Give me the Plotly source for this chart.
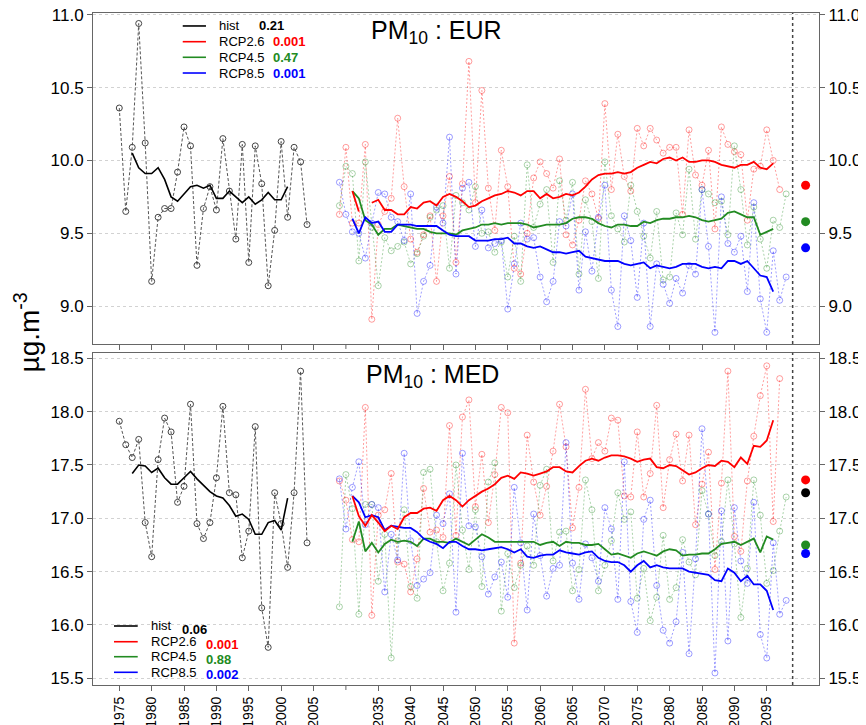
import plotly.graph_objects as go

# ---------------- data ----------------
hist_years = list(range(1975, 2005))
hist_rm_years = list(range(1977, 2002))
fut_years = list(range(2029, 2099))
fut_rm_years = list(range(2031, 2097))
end_marker_year = 2101
separator_year = 2099
axis_gap_years = 20  # years left out of the axis between the two periods

hist_tick_years = [1975, 1980, 1985, 1990, 1995, 2000, 2005]
blank_tick_years = [2030]
fut_tick_years = [2035, 2040, 2045, 2050, 2055, 2060, 2065, 2070, 2075, 2080, 2085, 2090, 2095]

# ---- PM10 : EUR ----
eur_hist = [10.36, 9.65, 10.09, 10.94, 10.12, 9.17, 9.61, 9.67, 9.67, 9.92,
            10.23, 10.10, 9.28, 9.67, 9.82, 9.66, 10.15, 9.79, 9.46, 10.11,
            9.30, 10.10, 9.84, 9.14, 9.52, 10.13, 9.61, 10.09, 9.99, 9.56]
eur_hist_rm = [10.05, 9.95, 9.91, 9.91, 9.95, 9.87, 9.75, 9.72, 9.77, 9.82,
               9.83, 9.81, 9.83, 9.74, 9.74, 9.79, 9.75, 9.71, 9.75, 9.70,
               9.73, 9.78, 9.73, 9.73, 9.82]
eur_r26 = [9.63, 10.09, 9.57, 9.57, 10.11, 8.91, 9.56, 9.65, 9.74, 10.29,
           9.82, 9.46, 9.37, 9.49, 9.62, 9.17, 9.62, 9.89, 9.30, 9.84,
           10.68, 9.71, 10.48, 9.81, 9.52, 10.07, 9.82, 9.26, 9.22, 9.50,
           9.88, 9.99, 9.91, 9.81, 10.01, 9.49, 9.42, 9.59, 9.86, 9.77,
           9.60, 10.39, 9.80, 10.18, 9.89, 9.79, 10.22, 10.10, 10.22, 10.14,
           10.05, 10.09, 10.09, 9.63, 10.21, 9.90, 9.83, 10.07, 9.53, 10.23,
           10.11, 10.06, 10.04, 9.59, 9.94, 9.96, 10.21, 10.00, 9.80, None]
eur_r45 = [9.69, 9.96, 9.91, 9.31, 9.99, 9.54, 9.14, 9.47, 9.38, 9.41,
           9.44, 9.29, 9.36, 9.48, 9.61, 9.66, 9.69, 9.26, 9.76, 9.71,
           9.66, 9.82, 9.50, 9.51, 9.37, 9.44, 9.20, 9.48, 9.17, 9.97,
           9.54, 9.70, 9.80, 9.30, 9.86, 9.59, 9.85, 9.22, 9.73, 9.58,
           9.19, 9.99, 9.62, 9.53, 9.44, 9.83, 9.65, 9.48, 9.33, 9.65,
           9.18, 9.20, 9.64, 9.49, 9.94, 9.46, 9.80, 9.77, 9.71, 9.72,
           9.49, 10.10, 9.80, 9.42, 9.68, 9.46, 9.26, 9.59, 9.54, 9.77]
eur_r85 = [9.85, 9.63, 9.51, 9.50, 9.33, 9.57, 9.78, 9.77, 9.61, 9.58,
           9.45, 9.77, 8.95, 9.17, 9.28, 9.68, 9.57, 10.16, 9.22, 9.81,
           9.85, 9.41, 9.66, 9.40, 9.43, 9.45, 8.98, 9.29, 9.57, 9.46,
           9.47, 9.20, 9.03, 9.17, 9.58, 9.55, 9.77, 9.11, 9.51, 9.24,
           9.61, 9.83, 9.11, 8.86, 9.62, 9.45, 9.06, 9.57, 8.86, 9.29,
           9.15, 9.02, 9.19, 9.09, 9.28, 9.22, 9.80, 9.41, 8.82, 9.75,
           9.43, 9.37, 9.48, 9.10, 9.71, 9.05, 8.82, 9.38, 9.04, 9.20]
eur_r26_rm = [9.79, 9.65, None, 9.71, 9.73, 9.66, 9.66, 9.63, 9.63, 9.68,
              9.67, 9.71, 9.72, 9.69, 9.75, 9.77, 9.75, 9.72, 9.68, 9.69,
              9.72, 9.74, 9.76, 9.77, 9.79, 9.78, 9.76, 9.79, 9.79, 9.74,
              9.77, 9.74, 9.75, 9.77, 9.76, 9.78, 9.82, 9.87, 9.90, 9.91,
              9.91, 9.92, 9.91, 9.92, 9.95, 9.97, 9.99, 9.98, 10.01, 10.02,
              10.00, 10.02, 9.99, 9.99, 10.00, 10.00, 9.99, 9.97, 9.96, 9.95,
              9.97, 9.97, 9.99, 9.95, 9.94, 9.98]
eur_r45_rm = [9.79, 9.74, 9.59, 9.56, 9.49, 9.53, 9.53, 9.56, 9.55, 9.54,
              9.53, 9.53, 9.51, 9.50, 9.50, 9.50, 9.49, 9.52, 9.53, 9.54,
              9.56, 9.56, 9.57, 9.56, 9.57, 9.57, 9.57, 9.56, 9.54, 9.55,
              9.56, 9.56, 9.56, 9.57, 9.60, 9.61, 9.61, 9.60, 9.57, 9.55,
              9.54, 9.56, 9.56, 9.55, 9.55, 9.58, 9.57, 9.59, 9.60, 9.60,
              9.61, 9.61, 9.62, 9.61, 9.59, 9.58, 9.59, 9.60, 9.64, 9.65,
              9.63, 9.61, 9.61, 9.49, 9.51, 9.53]
eur_r85_rm = [9.60, 9.50, 9.61, 9.57, 9.58, 9.51, 9.51, 9.56, 9.56, 9.56,
              9.55, 9.55, 9.55, 9.55, 9.52, 9.49, 9.48, 9.48, 9.48, 9.45,
              9.45, 9.45, 9.46, 9.46, 9.47, 9.43, 9.43, 9.41, 9.40, 9.41,
              9.39, 9.37, 9.37, 9.36, 9.37, 9.38, 9.34, 9.33, 9.32, 9.31,
              9.31, 9.31, 9.29, 9.28, 9.29, 9.30, 9.26, 9.28, 9.27, 9.26,
              9.27, 9.29, 9.29, 9.29, 9.27, 9.26, 9.27, 9.26, 9.31, 9.31,
              9.29, 9.31, 9.26, 9.21, 9.20, 9.10]
eur_end = {"r26": 9.83, "r45": 9.58, "r85": 9.40}
eur_pvals = {"hist": "0.21", "r26": "0.001", "r45": "0.47", "r85": "0.001"}

# ---- PM10 : MED ----
med_hist = [17.91, 17.69, 17.57, 17.74, 16.96, 16.64, 17.55, 17.94, 17.81, 17.15,
            17.30, 18.07, 16.95, 16.81, 16.96, 17.38, 18.05, 17.24, 17.22, 16.63,
            16.88, 17.86, 16.16, 15.79, 17.24, 16.95, 16.54, 17.24, 18.38, 16.77]
med_hist_rm = [17.42, 17.50, 17.49, 17.43, 17.47, 17.38, 17.32, 17.32, 17.38, 17.44,
               17.37, 17.31, 17.25, 17.21, 17.19, 17.12, 17.02, 17.04, 16.99, 16.85,
               16.85, 16.96, 16.98, 16.89, 17.19]
med_r26 = [17.35, 17.17, 16.80, 16.78, 18.04, 16.09, 17.03, 17.08, 17.42, 16.59,
           16.57, 16.31, 16.62, 17.28, 16.87, 16.89, 16.82, 17.87, 16.84, 17.95,
           18.11, 17.11, 17.60, 16.96, 17.41, 18.04, 17.99, 15.83, 16.58, 17.78,
           17.34, 17.03, 17.30, 17.63, 18.07, 17.67, 16.91, 17.29, 18.21, 17.56,
           17.71, 17.63, 17.94, 17.92, 17.21, 17.20, 17.81, 17.20, 17.42, 18.06,
           17.10, 17.55, 17.79, 17.35, 17.78, 16.94, 17.32, 17.62, 16.52, 17.33,
           18.38, 16.83, 16.69, 17.35, 17.77, 18.15, 18.43, 16.97, 18.31, None]
med_r45 = [16.17, 17.41, 17.09, 16.10, 17.13, 17.13, 16.41, 16.85, 15.69, 16.79,
           17.08, 16.36, 16.25, 17.43, 17.46, 16.78, 16.32, 16.58, 17.50, 16.89,
           16.52, 17.08, 16.36, 17.34, 17.52, 16.13, 16.67, 16.35, 16.56, 16.74,
           16.56, 17.31, 17.46, 16.60, 16.87, 16.88, 16.32, 16.52, 17.36, 17.08,
           16.32, 16.56, 16.79, 17.24, 16.99, 17.06, 16.25, 16.53, 16.04, 16.26,
           16.84, 16.24, 16.35, 16.80, 16.59, 16.47, 17.26, 17.04, 16.65, 16.78,
           17.36, 16.76, 16.07, 16.53, 17.36, 17.03, 16.39, 16.51, 16.88, 17.20]
med_r85 = [17.37, 16.90, 17.29, 17.53, 16.94, 17.13, 17.10, 16.31, 16.85, 16.61,
           17.61, 16.79, 16.37, 16.43, 16.49, 17.03, 16.95, 17.23, 16.12, 17.61,
           16.93, 16.92, 16.64, 16.29, 16.45, 16.59, 16.26, 17.29, 16.77, 16.14,
           17.04, 16.65, 16.27, 16.53, 16.56, 17.71, 16.58, 16.24, 16.76, 16.63,
           16.41, 17.10, 16.90, 16.24, 17.53, 16.22, 15.93, 16.99, 17.17, 16.37,
           15.95, 15.83, 16.03, 16.68, 15.73, 16.62, 17.84, 17.04, 15.55, 17.07,
           15.85, 17.10, 16.60, 16.39, 17.15, 15.91, 15.69, 16.77, 16.10, 16.23]
med_r26_rm = [17.21, 17.02, 16.93, 17.03, 16.96, 16.88, 16.93, 16.90, 17.01, 17.05,
              17.05, 17.09, 17.10, 17.07, 17.17, 17.21, 17.17, 17.11, 17.17, 17.21,
              17.25, 17.28, 17.32, 17.38, 17.40, 17.37, 17.43, 17.42, 17.40, 17.42,
              17.44, 17.48, 17.48, 17.44, 17.43, 17.49, 17.54, 17.56, 17.54, 17.57,
              17.59, 17.59, 17.58, 17.56, 17.53, 17.55, 17.56, 17.48, 17.47, 17.50,
              17.49, 17.45, 17.41, 17.43, 17.47, 17.50, 17.49, 17.54, 17.53, 17.48,
              17.57, 17.51, 17.68, 17.67, 17.73, 17.92]
med_r45_rm = [16.78, 16.97, 16.69, 16.77, 16.68, 16.76, 16.80, 16.78, 16.79, 16.78,
              16.74, 16.81, 16.81, 16.78, 16.78, 16.77, 16.81, 16.78, 16.75, 16.80,
              16.85, 16.82, 16.78, 16.78, 16.78, 16.78, 16.78, 16.78, 16.78, 16.75,
              16.77, 16.78, 16.74, 16.78, 16.77, 16.77, 16.75, 16.75, 16.76, 16.71,
              16.66, 16.67, 16.65, 16.63, 16.67, 16.69, 16.67, 16.65, 16.69, 16.71,
              16.70, 16.65, 16.66, 16.66, 16.67, 16.67, 16.71, 16.76, 16.77, 16.78,
              16.75, 16.78, 16.81, 16.68, 16.83, 16.80]
med_r85_rm = [17.21, 17.15, 17.01, 17.03, 17.01, 16.89, 16.93, 16.92, 16.91, 16.91,
              16.87, 16.81, 16.78, 16.76, 16.72, 16.78, 16.78, 16.74, 16.71, 16.71,
              16.70, 16.71, 16.72, 16.73, 16.71, 16.68, 16.71, 16.64, 16.63, 16.65,
              16.66, 16.66, 16.70, 16.68, 16.67, 16.66, 16.68, 16.69, 16.63, 16.60,
              16.59, 16.59, 16.56, 16.50, 16.56, 16.60, 16.54, 16.56, 16.54, 16.53,
              16.53, 16.53, 16.50, 16.49, 16.48, 16.47, 16.42, 16.41, 16.53, 16.49,
              16.41, 16.46, 16.38, 16.38, 16.32, 16.14]
med_end = {"r26": 17.36, "hist": 17.24, "r45": 16.75, "r85": 16.67}
med_pvals = {"hist": "0.06", "r26": "0.001", "r45": "0.88", "r85": "0.002"}

scen_names = {"hist": "hist", "r26": "RCP2.6", "r45": "RCP4.5", "r85": "RCP8.5"}
colors = {"hist": "#000000", "r26": "#FF0000", "r45": "#228B22", "r85": "#0000FF"}
pale = {"r26": "rgba(255,0,0,0.38)", "r45": "rgba(34,139,34,0.38)", "r85": "rgba(0,0,255,0.38)"}

# ---------------- helpers ----------------
def fpos(years):
    return [y - axis_gap_years for y in years]

fig = go.Figure()

def add_panel(xa, ya, yr, hist, hist_rm, fut, fut_rm, end):
    for k in ["r26", "r45", "r85"]:
        fig.add_trace(go.Scatter(
            x=fpos(fut_years), y=fut[k], mode="lines+markers", xaxis=xa, yaxis=ya,
            line=dict(color=pale[k], width=1, dash="2px,2px"),
            marker=dict(symbol="circle-open", size=6, color=pale[k], line=dict(width=1)),
            connectgaps=True, hoverinfo="skip"))
    fig.add_trace(go.Scatter(
        x=hist_years, y=hist, mode="lines+markers", xaxis=xa, yaxis=ya,
        line=dict(color="#555555", width=1, dash="3px,2px"),
        marker=dict(symbol="circle-open", size=6, color="#444444", line=dict(width=1)),
        hoverinfo="skip"))
    for k in ["r45", "r85", "r26"]:
        fig.add_trace(go.Scatter(
            x=fpos(fut_rm_years), y=fut_rm[k], mode="lines", xaxis=xa, yaxis=ya,
            line=dict(color=colors[k], width=1.8), connectgaps=False, hoverinfo="skip"))
    fig.add_trace(go.Scatter(
        x=hist_rm_years, y=hist_rm, mode="lines",
        xaxis=xa, yaxis=ya, line=dict(color="black", width=1.6), hoverinfo="skip"))
    ks = list(end.keys())
    fig.add_trace(go.Scatter(
        x=[end_marker_year - axis_gap_years] * len(ks), y=[end[k] for k in ks],
        mode="markers", xaxis=xa, yaxis=yr,
        marker=dict(size=9, color=[colors[k] for k in ks]), hoverinfo="skip"))

add_panel("x", "y", "y3", eur_hist, eur_hist_rm,
          {"r26": eur_r26, "r45": eur_r45, "r85": eur_r85},
          {"r26": eur_r26_rm, "r45": eur_r45_rm, "r85": eur_r85_rm}, eur_end)
add_panel("x2", "y2", "y4", med_hist, med_hist_rm,
          {"r26": med_r26, "r45": med_r45, "r85": med_r85},
          {"r26": med_r26_rm, "r45": med_r45_rm, "r85": med_r85_rm}, med_end)

tickvals = hist_tick_years + fpos(fut_tick_years)
ticktext = [str(y) for y in hist_tick_years] + [str(y) for y in fut_tick_years]

line_c = "#666666"
xcommon = dict(range=[1970.94, 2083.07], tickvals=tickvals, ticktext=ticktext,
               ticks="outside", ticklen=5, tickcolor=line_c, showline=True, linecolor=line_c,
               linewidth=1, mirror=True, showgrid=False, zeroline=False, automargin=False,
               ticklabeloverflow="allow")
ycommon = dict(ticks="outside", ticklen=5, tickcolor=line_c, showline=True, linecolor=line_c,
               linewidth=1, zeroline=False, tickformat=".1f", tickfont=dict(size=17),
               automargin=False, ticklabeloverflow="allow")

top_dom = [0.5074, 1.0]
bot_dom = [0.0, 0.4945]
top_rng = [8.74, 11.012]
bot_rng = [15.437, 18.553]
top_ticks = [9.0, 9.5, 10.0, 10.5, 11.0]
bot_ticks = [15.5, 16.0, 16.5, 17.0, 17.5, 18.0, 18.5]

# the page body adds an 8px offset, so the figure is sized and margined to compensate
fig.update_layout(
    width=858, height=717,
    margin=dict(l=85, r=47, t=5, b=40, autoexpand=False),
    paper_bgcolor="white", plot_bgcolor="white", showlegend=False,
    font=dict(family="Liberation Sans, Arial, sans-serif", size=17, color="black"),
    xaxis=dict(xcommon, anchor="y", domain=[0, 1], showticklabels=False),
    xaxis2=dict(xcommon, anchor="y2", domain=[0, 1], matches="x", tickangle=-90,
                tickfont=dict(size=14)),
    yaxis=dict(ycommon, domain=top_dom, range=top_rng, tickvals=top_ticks, anchor="x",
               showgrid=True, gridcolor="#d2d2d2", griddash="dot", mirror=True),
    yaxis3=dict(ycommon, overlaying="y", side="right", anchor="x", range=top_rng,
                tickvals=top_ticks, showgrid=False),
    yaxis2=dict(ycommon, domain=bot_dom, range=bot_rng, tickvals=bot_ticks, anchor="x2",
                showgrid=True, gridcolor="#d2d2d2", griddash="dot", mirror=True),
    yaxis4=dict(ycommon, overlaying="y2", side="right", anchor="x2", range=bot_rng,
                tickvals=bot_ticks, showgrid=False),
)

# vertical dotted separators
for xr, yr in [("x", "y domain"), ("x2", "y2 domain")]:
    fig.add_shape(type="line", xref=xr, yref=yr,
                  x0=separator_year - axis_gap_years, x1=separator_year - axis_gap_years,
                  y0=0, y1=1, line=dict(color="#444444", width=1.5, dash="dot"))

# unlabelled tick between the two periods
for xr, yref in [("x2", "y2 domain"), ("x", "y domain")]:
    fig.add_shape(type="line", xref=xr, yref=yref,
                  x0=fpos(blank_tick_years)[0], x1=fpos(blank_tick_years)[0],
                  y0=0, y1=-0.015, line=dict(color=line_c, width=1))

# titles
fig.add_annotation(text="PM<sub>10</sub> : EUR", xref="paper", yref="paper", x=0.4725, y=0.971,
                   showarrow=False, font=dict(size=25), xanchor="center", yanchor="middle")
fig.add_annotation(text="PM<sub>10</sub> : MED", xref="paper", yref="paper", x=0.4683, y=0.4598,
                   showarrow=False, font=dict(size=25), xanchor="center", yanchor="middle")
fig.add_annotation(text="µg.m<sup>-3</sup>", xref="paper", yref="paper", x=-0.0905, y=0.525,
                   showarrow=False, textangle=-90, font=dict(size=28),
                   xanchor="center", yanchor="middle")

# legends
def add_legend(rows, lx0, lx1, tx, pvals, num_x_hist, num_x, num_dy_hist, num_dy):
    for i, k in enumerate(["hist", "r26", "r45", "r85"]):
        yy = rows[i]
        fig.add_shape(type="line", xref="paper", yref="paper", x0=lx0, x1=lx1, y0=yy, y1=yy,
                      line=dict(color=colors[k], width=1.6))
        fig.add_annotation(text=scen_names[k], xref="paper", yref="paper", x=tx, y=yy,
                           showarrow=False, xanchor="left", yanchor="middle",
                           font=dict(size=13, color="black"))
        nx = num_x_hist if k == "hist" else num_x
        ndy = num_dy_hist if k == "hist" else num_dy
        fig.add_annotation(text="<b>%s</b>" % pvals[k], xref="paper", yref="paper", x=nx,
                           y=yy + ndy, showarrow=False, xanchor="left", yanchor="middle",
                           font=dict(size=13, color=colors[k]))

add_legend([0.9807, 0.9573, 0.9341, 0.9107], 0.1236, 0.1556, 0.1704, eur_pvals,
           0.2254, 0.2452, 0.0, 0.0)
add_legend([0.0878, 0.0644, 0.0421, 0.0189], 0.0289, 0.0616, 0.0776, med_pvals,
           0.1195, 0.1535, -0.0045, -0.0035)

fig.write_html("out.html")
